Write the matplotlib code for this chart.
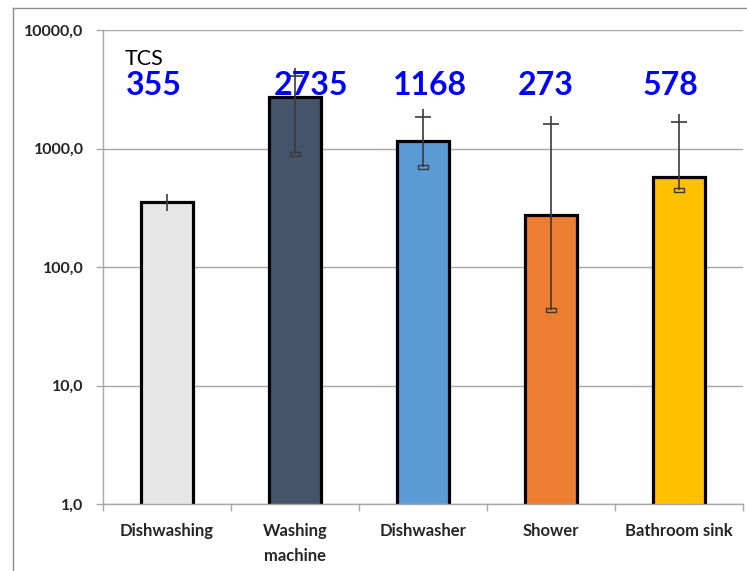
import matplotlib
matplotlib.use('Agg')
import matplotlib.pyplot as plt
from matplotlib.path import Path
from matplotlib.lines import Line2D
from matplotlib.ticker import FixedLocator, FuncFormatter
import numpy as np

# data
categories = ['Dishwashing', 'Washing\nmachine', 'Dishwasher', 'Shower', 'Bathroom sink']
tcs = [355, 2735, 1168, 273, 578]
err_low = [299, 899, 702, 43, 446]
err_high = [413, 4115, 1854, 1600, 1683]
has_caps = [False, True, True, True, True]
colors = ['#E7E6E6', '#44546A', '#5B9BD5', '#ED7D31', '#FFC000']
# labels were placed by hand in the original, not exactly centred
label_shift = [-0.105, 0.125, 0.055, -0.04, -0.066]

plt.rcParams['font.family'] = ['Lato', 'DejaVu Sans']

fig = plt.figure(figsize=(7.47, 5.71), dpi=100)
ax = fig.add_axes([103/747, 1-504/571, 640/747, 474/571])

x = np.arange(len(categories))
ax.bar(x, tcs, width=0.41, bottom=0, color=colors, edgecolor='black', linewidth=2.3, zorder=2)

# custom markers: top cap with the line poking through, bottom cap as small box
top_mark = Path([(-1, 0), (1, 0), (0, 0), (0, 1)],
                [Path.MOVETO, Path.LINETO, Path.MOVETO, Path.LINETO])
box_mark = Path([(-1, -0.3), (1, -0.3), (1, 0.3), (-1, 0.3), (-1, -0.3)],
                [Path.MOVETO, Path.LINETO, Path.LINETO, Path.LINETO, Path.CLOSEPOLY])

for i in range(len(categories)):
    ax.vlines(x[i], err_low[i], err_high[i], color='#3a3a3a', lw=1.2, zorder=3)
    if has_caps[i]:
        ax.plot(x[i], err_high[i], marker=top_mark, markersize=12, color='#3a3a3a',
                mew=1.2, zorder=3)
        ax.plot(x[i], err_low[i], marker=box_mark, markersize=7.5, mfc='none',
                mec='#3a3a3a', mew=1.0, zorder=3)
    ax.text(x[i] + label_shift[i], 0.863, str(tcs[i]), transform=ax.get_xaxis_transform(),
            ha='center', va='baseline', color='#0000FF', fontsize=23, fontweight='bold',
            zorder=4)

ax.text(0.034, 0.926, 'TCS', transform=ax.transAxes, fontsize=15.5, color='black',
        ha='left', va='baseline')

ax.set_yscale('log')
ax.set_ylim(1, 10000)
ax.set_xlim(-0.5, len(categories) - 0.5)
ax.yaxis.set_major_locator(FixedLocator([1, 10, 100, 1000, 10000]))
ax.yaxis.set_minor_locator(FixedLocator([]))
ax.yaxis.set_major_formatter(FuncFormatter(lambda v, p: ('%.1f' % v).replace('.', ',')))
ax.grid(axis='y', color='#a6a6a6', lw=1.0, zorder=0)

ax.set_xticks(x)
ax.set_xticklabels(categories, fontsize=12, fontweight='bold', color='#262626',
                   linespacing=1.65)
ax.set_xticks(np.arange(len(categories) + 1) - 0.5, minor=True)
ax.tick_params(axis='x', which='major', length=0, pad=14)
ax.tick_params(axis='x', which='minor', length=5, color='#a6a6a6', width=1.0)
ax.tick_params(axis='y', which='major', length=5, color='#a6a6a6', width=1.0, pad=9,
               labelsize=11.5)
for lab in ax.get_yticklabels():
    lab.set_fontweight('bold')
    lab.set_color('#262626')

for side in ['top', 'right']:
    ax.spines[side].set_visible(False)
for side in ['left', 'bottom']:
    ax.spines[side].set_color('#a6a6a6')
    ax.spines[side].set_linewidth(1.0)

# outer chart frame (cut off at right and bottom in the reference)
fig.add_artist(Line2D([13/747, 13/747], [0, 1-8/571], color='#8c8c8c', lw=1.0))
fig.add_artist(Line2D([13/747, 1], [1-8/571, 1-8/571], color='#8c8c8c', lw=1.0))

fig.savefig('out.png', dpi=100)
